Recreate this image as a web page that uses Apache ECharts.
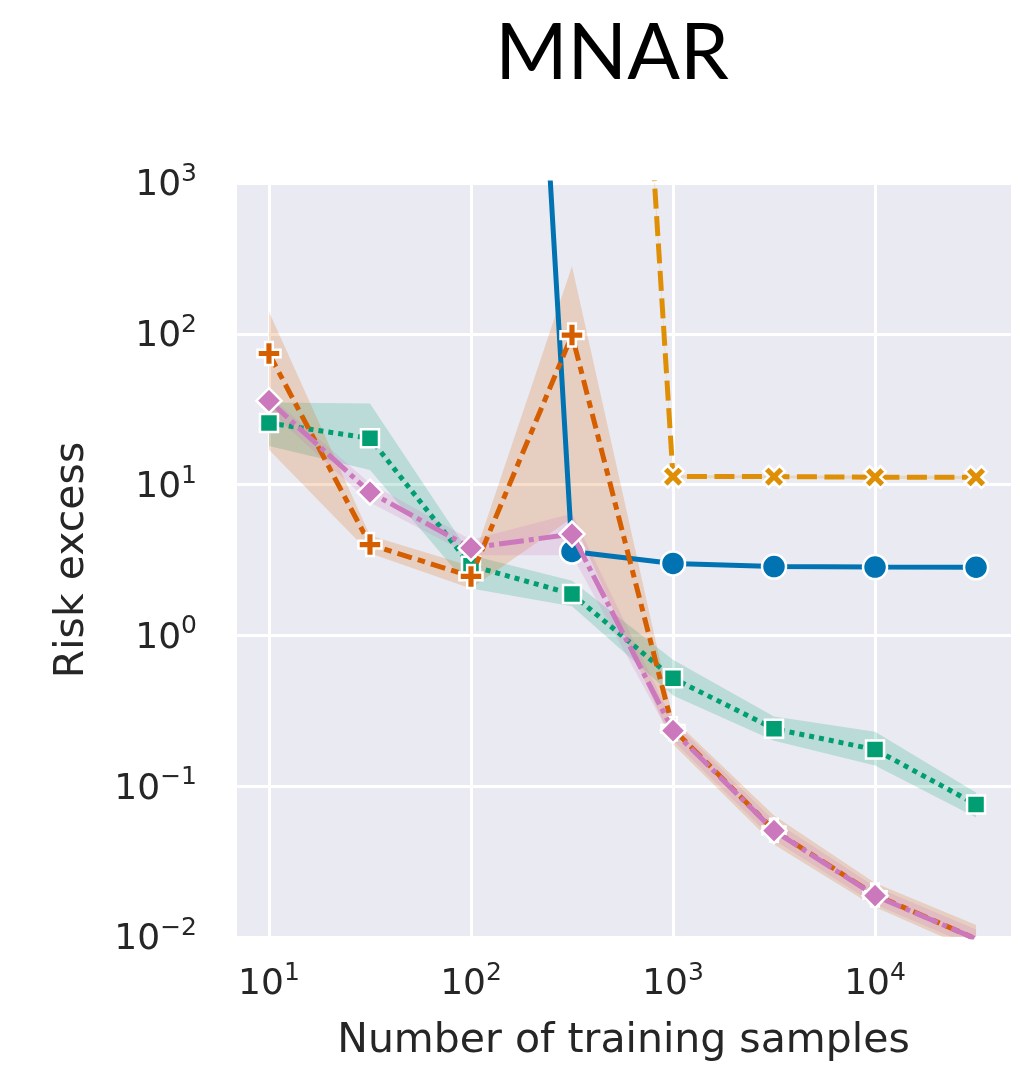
<!DOCTYPE html>
<html>
<head>
<meta charset="utf-8">
<script src="https://cdn.jsdelivr.net/npm/echarts@6/dist/echarts.min.js"></script>
<style>
  html, body { margin: 0; padding: 0; background: #fff; }
  #chart { width: 1036px; height: 1067px; }
</style>
</head>
<body>
<div id="chart"></div>
<script>
// training sample sizes (x axis, log)
const sampleSizes = [10, 31.62, 100, 316.2, 1000, 3162, 10000, 31623]

// mean risk excess per method
const blueSolid = [null, null, 1e12, 3.6, 3.0, 2.86, 2.84, 2.83]
const orangeDashed = [null, null, null, 5e11, 11.3, 11.3, 11.2, 11.2]
const greenDotted = [25.6, 20.3, 2.9, 1.88, 0.52, 0.24, 0.175, 0.0757]
const redDashDot = [74, 4.0, 2.46, 98, 0.24, 0.051, 0.019, 0.0097]
const pinkDashDot = [36, 8.9, 3.8, 4.7, 0.234, 0.0507, 0.0188, 0.0097]

// confidence bands (lower / upper)
const orangeLow = [null, null, null, 3e11, 11.0, 11.0, 10.9, 10.9]
const orangeHigh = [null, null, null, 8e11, 11.6, 11.5, 11.5, 11.4]
const greenLow = [18, 12.5, 2.05, 1.56, 0.40, 0.20, 0.137, 0.062]
const greenHigh = [35, 34.5, 3.4, 2.3, 0.69, 0.29, 0.23, 0.091]
const redLow = [17, 3.5, 2.05, 6.0, 0.19, 0.041, 0.0158, 0.008]
const redHigh = [140, 4.6, 2.87, 280, 0.28, 0.064, 0.0228, 0.012]
const pinkLow = [31, 7.6, 3.4, 3.4, 0.2, 0.044, 0.0165, 0.0085]
const pinkHigh = [39, 10.2, 4.3, 6.4, 0.27, 0.059, 0.0215, 0.0112]

const chart = echarts.init(document.getElementById('chart'), null, { renderer: 'canvas' })

const plusPath = 'path://M-1,-3H1V-1H3V1H1V3H-1V1H-3V-1H-1Z'

const powLabel = (v) => {
  const l = Math.log10(v)
  const e = Math.round(l)
  if (Math.abs(l - e) > 1e-6) return ''
  return '{b|10}{s|' + (e < 0 ? '\u2212' + (-e) : e) + '}'
}

const labelRich = {
  b: { fontSize: 36, fontFamily: 'DejaVu Sans', color: '#262626', lineHeight: 42, verticalAlign: 'bottom' },
  s: { fontSize: 25, fontFamily: 'DejaVu Sans', color: '#262626', lineHeight: 25, verticalAlign: 'top' },
}

const band = (low, high, color) => {
  const rows = sampleSizes.map((x, i) => [x, low[i], high[i]]).filter((r) => r[1] != null && r[2] != null)
  return {
    type: 'custom',
    coordinateSystem: 'cartesian2d',
    clip: true,
    silent: true,
    z: 1,
    data: rows,
    encode: { x: 0, y: [1, 2] },
    renderItem: (params, api) => {
      if (params.dataIndex !== 0) return null
      const top = rows.map((r) => api.coord([r[0], r[2]]))
      const bot = rows.map((r) => api.coord([r[0], r[1]])).reverse()
      return {
        type: 'polygon',
        shape: { points: top.concat(bot) },
        style: { fill: color },
      }
    },
  }
}

const line = (name, vals, color, dash, symbol, size, z, extra) => Object.assign({
  name,
  type: 'line',
  data: sampleSizes.map((x, i) => [x, vals[i]]),
  z,
  symbol,
  symbolSize: size,
  showSymbol: true,
  showAllSymbol: true,
  connectNulls: false,
  lineStyle: { color, width: 5, type: dash, cap: 'butt' },
  itemStyle: { color, borderColor: '#ffffff', borderWidth: 2.5 },
}, extra || {})

chart.setOption({
  animation: false,
  backgroundColor: '#ffffff',
  graphic: [
    {
      type: 'text',
      x: 612,
      y: 54,
      style: {
        text: 'MNAR',
        font: '400 78px Lato',
        fill: '#000000',
        align: 'center',
        textAlign: 'center',
        verticalAlign: 'middle',
        textVerticalAlign: 'middle',
      },
    },
  ],
  grid: { left: 235, right: 24, top: 183, bottom: 127, show: true, backgroundColor: '#eaeaf2', borderWidth: 0 },
  xAxis: {
    type: 'log',
    logBase: 10,
    min: 6.79,
    max: 47640,
    name: 'Number of training samples',
    nameLocation: 'middle',
    nameGap: 84,
    nameTextStyle: { fontSize: 41, fontFamily: 'DejaVu Sans', color: '#262626' },
    axisLine: { show: false },
    axisTick: { show: false },
    axisLabel: { formatter: powLabel, rich: labelRich, margin: 24, showMinLabel: false, showMaxLabel: false },
    splitLine: { show: true, lineStyle: { color: '#ffffff', width: 3 } },
  },
  yAxis: {
    type: 'log',
    logBase: 10,
    min: 0.01,
    max: 1000,
    name: 'Risk excess',
    nameLocation: 'middle',
    nameGap: 142,
    nameTextStyle: { fontSize: 41, fontFamily: 'DejaVu Sans', color: '#262626' },
    axisLine: { show: false },
    axisTick: { show: false },
    axisLabel: { formatter: powLabel, rich: labelRich, margin: 38 },
    splitLine: { show: true, lineStyle: { color: '#ffffff', width: 3 } },
  },
  series: [
    band(orangeLow, orangeHigh, 'rgba(222,143,5,0.2)'),
    band(greenLow, greenHigh, 'rgba(2,158,115,0.2)'),
    band(redLow, redHigh, 'rgba(213,94,0,0.2)'),
    band(pinkLow, pinkHigh, 'rgba(204,120,188,0.2)'),
    line('blue', blueSolid, '#0173b2', 'solid', 'circle', 24, 3),
    line('orange', orangeDashed, '#de8f05', [20, 7.5], plusPath, 23, 4, { symbolRotate: 45 }),
    line('green', greenDotted, '#029e73', [5, 5], 'rect', 18, 5),
    line('red', redDashDot, '#d55e00', [15, 6.25, 7.5, 6.25], plusPath, 23, 6),
    line('pink', pinkDashDot, '#cc78bc', [25, 5, 5, 5], 'diamond', 25, 7),
  ],
})
</script>
</body>
</html>
